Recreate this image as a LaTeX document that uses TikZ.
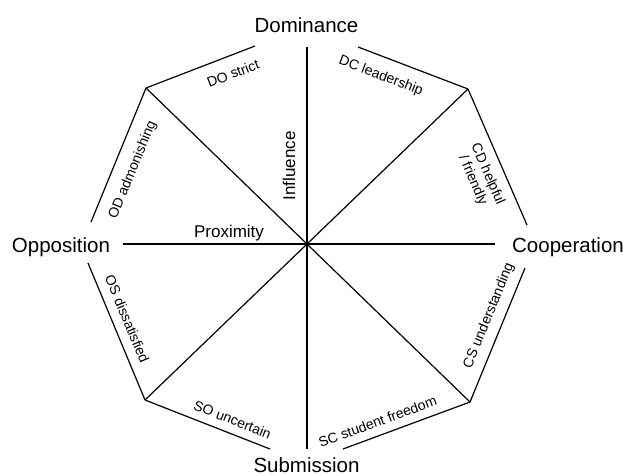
\documentclass[tikz,border=0pt]{standalone}
\usepackage{fontspec}
\setmainfont{Liberation Sans}
\usetikzlibrary{positioning,calc}

\begin{document}
\begin{tikzpicture}[
  x=1pt, y=-1pt,
  pole/.style={font=\fontsize{20.5}{24}\selectfont, inner sep=0pt, anchor=base},
  dim/.style={font=\fontsize{17}{20}\selectfont, inner sep=0pt, anchor=base},
  lbl/.style={sloped, font=\fontsize{14}{16}\selectfont, align=center, inner sep=1pt},
  rim/.style={line width=1.2pt},
  ax/.style={line width=1.2pt}
]
\useasboundingbox (0,0) rectangle (625,475);

% corners and ends
\coordinate (ctr) at (307,244);
\coordinate (nw) at (146,88);
\coordinate (ne) at (468,89);
\coordinate (sw) at (145,400);
\coordinate (se) at (470,402);
\coordinate (dol) at (255,46);
\coordinate (dor) at (358,47);
\coordinate (oul) at (91,222);
\coordinate (oll) at (88,263);
\coordinate (cur) at (527,225);
\coordinate (clr) at (525,268);
\coordinate (sbl) at (270,449);
\coordinate (sbr) at (343,449);
\coordinate (atop) at (307,47);
\coordinate (abot) at (307,449);
\coordinate (aleft) at (123,244);
\coordinate (aright) at (495,244);

% poles
\node[pole] (dom) at (306.5,32) {Dominance};
\node[pole] (opp) at (61,252) {Opposition};
\node[pole] (coop) at (568,252) {Cooperation};
\node[pole] (sub) at (306.5,472) {Submission};
\node[dim] (prox) at (229,237) {Proximity};
\node[dim, rotate=90] (infl) at (295,166) {Influence};

% axes
\draw[ax] (atop) -- (abot);
\draw[ax] (aleft) -- (aright);
\draw[ax] (nw) -- (se);
\draw[ax] (ne) -- (sw);
\fill (ctr) circle (2);

% octagon
\draw[rim] (nw) -- node[lbl, below=11pt, pos=0.74] (dos) {DO strict} (dol);
\draw[rim] (dor) -- node[lbl, below=11pt, pos=0.27] (dcl) {DC leadership} (ne);
\draw[rim] (oul) -- node[lbl, below=11pt, pos=0.44] (oda) {OD admonishing} (nw);
\draw[rim] (ne) -- node[lbl, below=8pt, pos=0.58] (cdh) {CD helpful\\/ friendly} (cur);
\draw[rim] (oll) -- node[lbl, above=8pt, pos=0.45] (osd) {OS dissatisfied} (sw);
\draw[rim] (se) -- node[lbl, above=7pt, pos=0.6] (csu) {CS understanding} (clr);
\draw[rim] (sw) -- node[lbl, above=7pt, pos=0.66] (sou) {SO uncertain} (sbl);
\draw[rim] (sbr) -- node[lbl, above=7pt, pos=0.31] (scs) {SC student freedom} (se);
\end{tikzpicture}
\end{document}
